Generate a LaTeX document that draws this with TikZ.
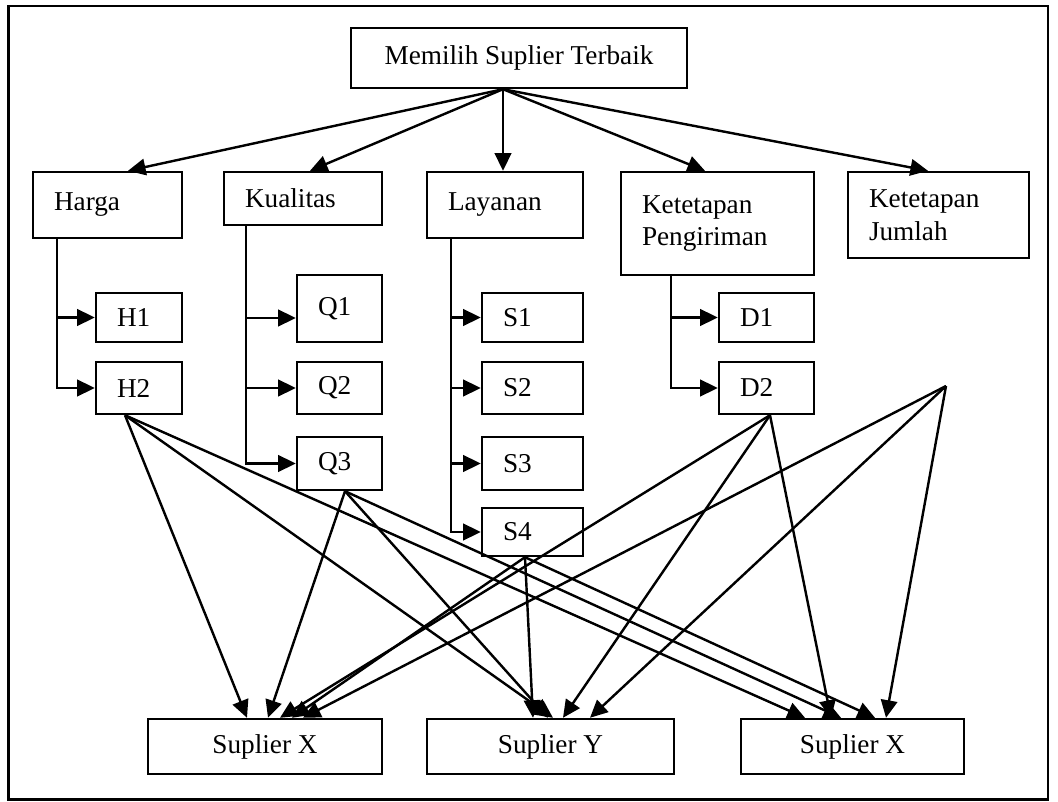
\documentclass[tikz,border=0pt]{standalone}
\usepackage{fontspec}
\setmainfont{Liberation Serif}
\usetikzlibrary{arrows.meta}
\tikzset{
  kotak/.style={shape=rectangle, draw, line width=1.1pt, inner xsep=0.336cm, inner ysep=2pt, align=left},
  tengah/.style={kotak, align=center},
  panah/.style={line width=1.1pt, -{Triangle[length=8pt,width=7.5pt]}},
}
\begin{document}
\begin{tikzpicture}[font=\fontsize{12.4pt}{15pt}\selectfont]
          \useasboundingbox (0,0) rectangle (16.928,12.816);
          \draw[line width=1.1pt] (0.136,0.024) rectangle (16.768,12.72);
          % Paths, nodes and wires:
          \node[tengah, minimum width=5.376cm, minimum height=0.96cm] (pilih) at (8.304, 11.888) {Memilih Suplier Terbaik};
          \node[kotak, text width=1.712cm, minimum height=1.056cm] (harga) at (1.72, 9.536) {Harga};
          \node[kotak, text width=1.856cm, minimum height=0.848cm] (kualitas) at (4.848, 9.64) {Kualitas};
          \node[kotak, text width=1.824cm, minimum height=1.056cm] (layanan) at (8.08, 9.536) {Layanan};
          \node[kotak, text width=2.416cm, minimum height=1.648cm] (kirim) at (11.48, 9.24) {Ketetapan\\Pengiriman};
          \node[kotak, text width=2.224cm, minimum height=1.376cm] (jumlah) at (15.016, 9.376) {Ketetapan\\Jumlah};
          \node[kotak, text width=0.704cm, minimum height=0.784cm] (h1) at (2.224, 7.736) {H1};
          \node[kotak, text width=0.704cm, minimum height=0.832cm] (h2) at (2.224, 6.608) {H2};
          \node[kotak, text width=0.688cm, minimum height=1.072cm] (q1) at (5.432, 7.88) {Q1};
          \node[kotak, text width=0.688cm, minimum height=0.832cm] (q2) at (5.432, 6.608) {Q2};
          \node[kotak, text width=0.688cm, minimum height=0.848cm] (q3) at (5.432, 5.4) {Q3};
          \node[kotak, text width=0.944cm, minimum height=0.784cm] (s1) at (8.52, 7.736) {S1};
          \node[kotak, text width=0.944cm, minimum height=0.832cm] (s2) at (8.52, 6.608) {S2};
          \node[kotak, text width=0.944cm, minimum height=0.848cm] (s3) at (8.52, 5.4) {S3};
          \node[kotak, text width=0.944cm, minimum height=0.768cm] (s4) at (8.52, 4.304) {S4};
          \node[kotak, text width=0.848cm, minimum height=0.784cm] (d1) at (12.264, 7.736) {D1};
          \node[kotak, text width=0.848cm, minimum height=0.832cm] (d2) at (12.264, 6.608) {D2};
          \node[tengah, minimum width=3.744cm, minimum height=0.88cm] (supx1) at (4.24, 0.872) {Suplier X};
          \node[tengah, minimum width=3.952cm, minimum height=0.88cm] (supy) at (8.808, 0.872) {Suplier Y};
          \node[tengah, minimum width=3.568cm, minimum height=0.88cm] (supx2) at (13.64, 0.872) {Suplier X};
          \coordinate (pusat) at ([xshift=-0.256cm]pilih.south);
          \draw[panah] (pusat) -- ([xshift=0.328cm]harga.north);
          \draw[panah] (pusat) -- ([xshift=0.112cm]kualitas.north);
          \draw[panah] (pusat) -- (pusat |- layanan.north);
          \draw[panah] (pusat) -- ([xshift=-0.2cm]kirim.north);
          \draw[panah] (pusat) -- ([xshift=-0.168cm]jumlah.north);
          % cabang kriteria
          \coordinate (jalurH) at ([xshift=0.4cm]harga.south west);
          \coordinate (jalurQ) at ([xshift=0.368cm]kualitas.south west);
          \coordinate (jalurS) at ([xshift=0.4cm]layanan.south west);
          \coordinate (jalurD) at ([xshift=0.816cm]kirim.south west);
          \coordinate (q1in) at ([yshift=-0.152cm]q1.west);
          \draw[panah] (jalurH) |- (h2.west);
          \draw[panah] (jalurH |- h1.west) -- (h1.west);
          \draw[panah] (jalurQ) |- (q3.west);
          \draw[panah] (jalurQ |- q1in) -- (q1in);
          \draw[panah] (jalurQ |- q2.west) -- (q2.west);
          \draw[panah] (jalurS) |- (s4.west);
          \foreach \s in {s1,s2,s3}
            \draw[panah] (jalurS |- \s.west) -- (\s.west);
          \draw[panah] (jalurD) |- (d2.west);
          \draw[panah] (jalurD |- d1.west) -- (d1.west);
          % ke suplier
          \coordinate (h2b) at ([xshift=-0.224cm]h2.south);
          \coordinate (q3b) at ([xshift=0.088cm]q3.south);
          \coordinate (s4b) at ([xshift=-0.12cm]s4.south);
          \coordinate (d2b) at ([xshift=0.056cm]d2.south);
          \coordinate (titik) at (15.136, 6.64);
          \foreach \dari/\ke/\geser in {h2b/supx1/-0.288, q3b/supx1/0.048, d2b/supx1/0.24, s4b/supx1/0.432, titik/supx1/0.608,
              s4b/supy/-0.28, q3b/supy/-0.04, h2b/supy/0.04, d2b/supy/0.2, titik/supy/0.632,
              h2b/supx2/-0.76, d2b/supx2/-0.344, q3b/supx2/-0.184, s4b/supx2/0.36, titik/supx2/0.536}
            \draw[panah] (\dari) -- ([xshift=\geser cm]\ke.north);
        \end{tikzpicture}
\end{document}
